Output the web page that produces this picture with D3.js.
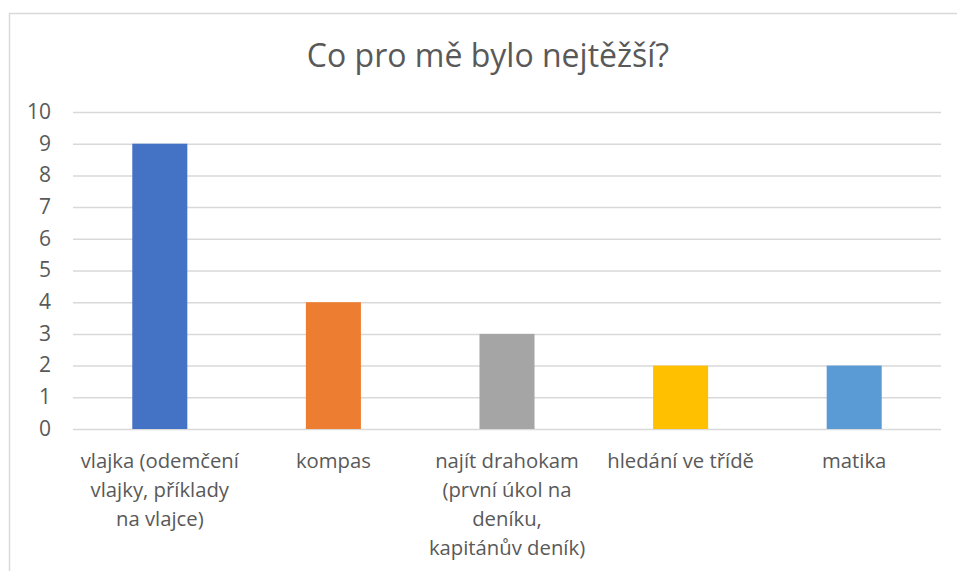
<!DOCTYPE html>
<html>
<head>
<meta charset="utf-8">
<script src="https://cdn.jsdelivr.net/npm/d3@7"></script>
<style>
  html, body { margin: 0; padding: 0; background: #fff; }
  svg { display: block; font-family: "Open Sans", Lato, sans-serif; }
</style>
</head>
<body>
<svg id="chart" width="957" height="571"></svg>
<script>
// Survey answers: which part was the hardest
const categories = [
  "vlajka (odemčení\nvlajky, příklady\nna vlajce)",
  "kompas",
  "najít drahokam\n(první úkol na\ndeníku,\nkapitánův deník)",
  "hledání ve třídě",
  "matika"
];
const values = [9, 4, 3, 2, 2];
const barColors = ["#4472C4", "#ED7D31", "#A5A5A5", "#FFC000", "#5B9BD5"];
const yTicks = [0, 1, 2, 3, 4, 5, 6, 7, 8, 9, 10];
const title = "Co pro mě bylo nejtěžší?";

const svg = d3.select("#chart");
const textColor = "#595959";
const gridColor = "#d9d9d9";

// Outer chart frame
svg.append("rect")
  .attr("x", 9.5).attr("y", 13.5)
  .attr("width", 1000).attr("height", 600)
  .attr("fill", "#fff")
  .attr("stroke", gridColor).attr("stroke-width", 1.5);

const plot = { left: 73, right: 941, top: 112, bottom: 429 };

const x = d3.scaleBand()
  .domain(categories)
  .range([plot.left, plot.right])
  .padding(0);

const y = d3.scaleLinear()
  .domain([0, 10])
  .range([plot.bottom, plot.top]);

// Title
svg.append("text")
  .attr("x", 488).attr("y", 67)
  .attr("text-anchor", "middle")
  .attr("fill", textColor)
  .style("font-size", "32px")
  .text(title);

// Horizontal gridlines with value labels
const yAxis = d3.axisLeft(y)
  .tickValues(yTicks)
  .tickSize(-(plot.right - plot.left))
  .tickPadding(22)
  .tickFormat(d3.format("d"));

const gy = svg.append("g")
  .attr("transform", `translate(${plot.left},0)`)
  .call(yAxis);
gy.select(".domain").remove();
gy.selectAll(".tick line")
  .attr("stroke", gridColor)
  .attr("stroke-width", 1.5);
gy.selectAll(".tick text")
  .attr("fill", textColor)
  .attr("dy", "0.3em")
  .style("font-size", "21px")
  .style("font-family", "'Open Sans', Lato, sans-serif");

// Bars
const barWidth = x.bandwidth() * 0.317;
svg.append("g")
  .selectAll("rect")
  .data(values)
  .join("rect")
  .attr("x", (d, i) => x(categories[i]) + (x.bandwidth() - barWidth) / 2)
  .attr("y", d => y(d))
  .attr("width", barWidth)
  .attr("height", d => y(0) - y(d))
  .attr("fill", (d, i) => barColors[i]);

// Category labels, one tspan per line
const labels = svg.append("g")
  .selectAll("text")
  .data(categories)
  .join("text")
  .attr("text-anchor", "middle")
  .attr("fill", textColor)
  .style("font-size", "20.3px")
  .attr("transform", d => `translate(${x(d) + x.bandwidth() / 2},468)`);

labels.selectAll("tspan")
  .data(d => d.split("\n"))
  .join("tspan")
  .attr("x", 0)
  .attr("y", (d, i) => i * 29)
  .text(d => d);
</script>
</body>
</html>
